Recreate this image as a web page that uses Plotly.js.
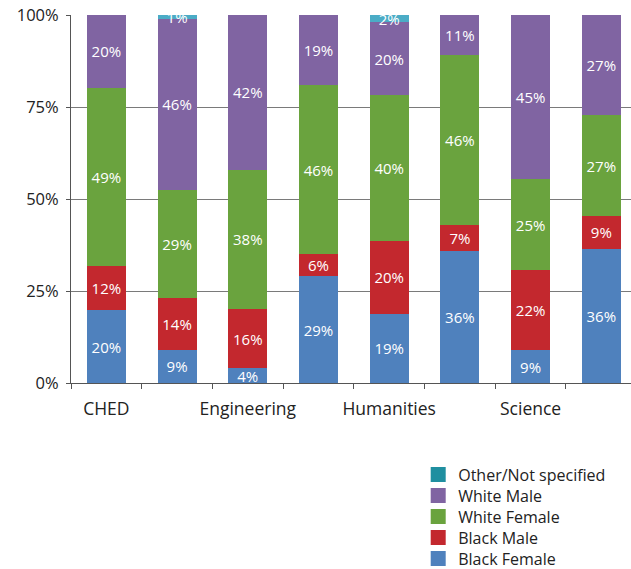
<!DOCTYPE html>
<html>
<head>
<meta charset="utf-8">
<script src="https://cdn.plot.ly/plotly-3.0.1.min.js"></script>
<style>html,body{margin:0;padding:0;background:#fff;}#chart{width:631px;height:569px;}</style>
</head>
<body>
<div id="chart"></div>
<script>
var categories = ["CHED", "Commerce", "Engineering", "Health Sciences", "Humanities", "Law", "Science", "Total"];
var tickLabels = ["CHED", "", "Engineering", "", "Humanities", "", "Science", ""];
var yTickValues = [0, 25, 50, 75, 100];
var blackFemale = [20, 9, 4, 29, 19, 36, 9, 36];
var blackMale   = [12, 14, 16, 6, 20, 7, 22, 9];
var whiteFemale = [49, 29, 38, 46, 40, 46, 25, 27];
var whiteMale   = [20, 46, 42, 19, 20, 11, 45, 27];
var otherNS     = [0, 1, 0, 0, 2, 0, 0, 0];
var seriesNames = ["Black Female", "Black Male", "White Female", "White Male", "Other/Not specified"];
var barColors = ["#4f81bd", "#c3282e", "#6aa33e", "#8064a2", "#4bacc6"];
var legendColors = ["#4f81bd", "#c3282e", "#6aa33e", "#8064a2", "#1f8fa0"];
var seriesValues = [blackFemale, blackMale, whiteFemale, whiteMale, otherNS];

var FONT = "'Open Sans', Lato, sans-serif";
var PLOT_H = 368;
var traces = [];
seriesValues.forEach(function (vals, i) {
  traces.push({
    type: "bar",
    x: categories,
    y: vals,
    name: seriesNames[i],
    showlegend: false,
    marker: {color: barColors[i], line: {width: 0}},
    text: vals.map(function (v) { return v > 0 ? v + "%" : ""; }),
    textposition: "inside",
    insidetextanchor: "middle",
    constraintext: "none",
    textangle: 0,
    textfont: {color: "#ffffff", size: 15, family: FONT},
    hoverinfo: "name+y"
  });
});

var layout = {
  width: 631,
  height: 569,
  margin: {l: 71, r: 0, t: 15, b: 186, autoexpand: false},
  paper_bgcolor: "#ffffff",
  plot_bgcolor: "#ffffff",
  barmode: "stack",
  barnorm: "percent",
  bargap: 0.45,
  showlegend: true,
  font: {family: FONT, color: "#222222"},
  xaxis: {
    type: "category",
    range: [-0.5, 7.42],
    tickmode: "array",
    tickvals: categories,
    ticktext: tickLabels,
    tickangle: 0,
    automargin: false,
    tickson: "boundaries",
    ticks: "outside",
    ticklen: 5,
    tickcolor: "#555555",
    ticklabelstandoff: 10,
    showline: true,
    linecolor: "#555555",
    linewidth: 1,
    showgrid: false,
    tickfont: {size: 17.5, family: FONT, color: "#222222"},
    fixedrange: true
  },
  yaxis: {
    range: [0, 100],
    tickmode: "array",
    tickvals: yTickValues,
    ticktext: yTickValues.map(function (v) { return v + "%"; }),
    automargin: false,
    ticks: "outside",
    ticklen: 4,
    tickcolor: "#555555",
    ticklabelstandoff: 4,
    showline: true,
    linecolor: "#555555",
    linewidth: 1,
    showgrid: true,
    gridcolor: "#7a7a7a",
    gridwidth: 1,
    zeroline: false,
    tickfont: {size: 16.5, family: FONT, color: "#222222"},
    fixedrange: true
  }
};

// Legend: one legend box per entry so the row spacing can match the reference
var legendOrder = [4, 3, 2, 1, 0];
legendOrder.forEach(function (si, k) {
  var key = k === 0 ? "legend" : "legend" + (k + 1);
  traces.push({
    type: "scatter",
    mode: "markers",
    x: [null],
    y: [null],
    name: seriesNames[si],
    legend: key,
    marker: {symbol: "square", size: 15, color: legendColors[si]},
    showlegend: true
  });
  layout[key] = {
    x: 0.62, xanchor: "left",
    y: -(91.5 + 21 * k) / PLOT_H, yanchor: "middle",
    font: {size: 16, family: FONT, color: "#222222"},
    itemsizing: "trace",
    bgcolor: "rgba(0,0,0,0)",
    borderwidth: 0
  };
});

Plotly.newPlot("chart", traces, layout, {displayModeBar: false, staticPlot: true});
</script>
</body>
</html>
